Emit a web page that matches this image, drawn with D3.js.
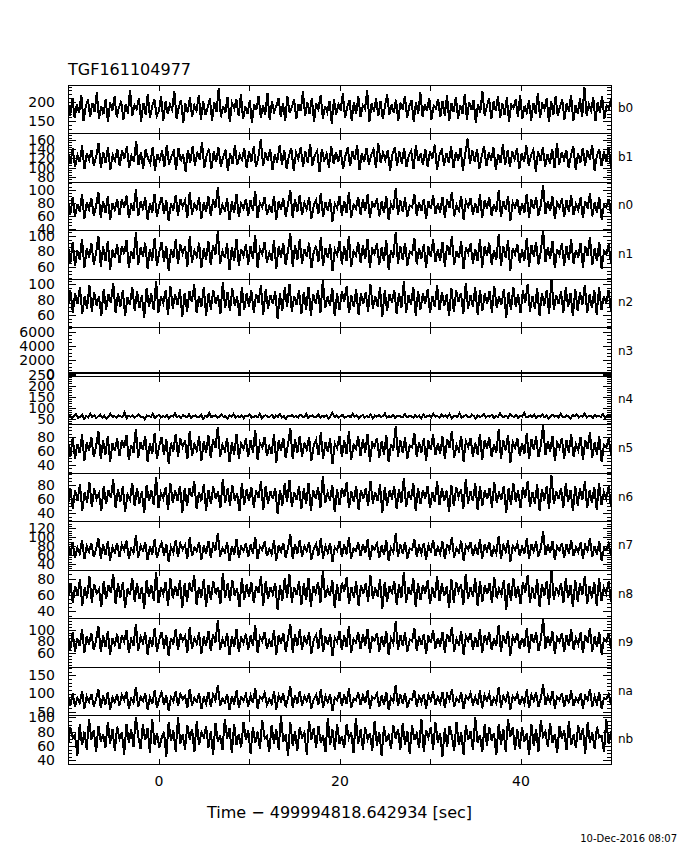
<!DOCTYPE html>
<html><head><meta charset="utf-8">
<script src="https://cdn.jsdelivr.net/npm/d3@7"></script>
<style>
body{margin:0;background:#fff}
svg{display:block}
text{font-family:'DejaVu Sans',sans-serif;fill:#000}
</style></head>
<body><svg id="c" width="680" height="850"></svg>
<script>
const titleText = "TGF161104977";
const xTitle = "Time \u2212 499994818.642934 [sec]";
const dateText = "10-Dec-2016 08:07";
const detectors = ["b0","b1","n0","n1","n2","n3","n4","n5","n6","n7","n8","n9","na","nb"];
const yLow  = [118, 69, 37, 44, 43, -360, 23, 28, 28, 25, 31, 36, 38, 34];
const yHigh = [244, 174, 112, 106.5, 107, 6570, 243, 97.8, 96.5, 134.6, 90, 118, 172, 102];
const majorTicks = [[150,200],[80,100,120,140,160],[40,60,80,100],[60,80,100],[60,80,100],[0,2000,4000,6000],[50,100,150,200,250],[40,60,80],[40,60,80],[40,60,80,100,120],[40,60,80],[60,80,100],[50,100,150],[40,60,80,100]];
const minorStep = [10,5,5,5,5,500,10,5,5,5,5,5,10,5];
const timeRange = [-10, 50];
const xTickValues = [-10,0,10,20,30,40,50];
const xLabelValues = [0,20,40];

const rates_b0 = [200,165,211,158,194,171,219,150,188,206,162,197,174,225,155,190,168,208,147,199,177,214,160,186,203,153,195,170,232,164,192,181,210,149,198,167,221,159,189,207,163,176,215,152,201,169,193,180,228,157,187,205,146,196,173,212,161,191,178,218,154,202,166,185,209,151,199,175,236,160,190,172,213,148,197,183,206,163,220,156,188,170,204,145,195,179,216,158,192,167,224,153,201,174,189,210,162,198,150,215,171,186,207,155,193,176,227,164,200,168,211,149,196,181,218,157,190,173,203,144,208,166,194,178,222,159,187,205,152,199,170,214,161,191,182,230,148,196,175,209,163,202,156,188,219,167,193,172,206,151,198,180,216,158,189,204,147,200,169,225,162,195,176,211,154,190,183,208,160,203,165,217,150,197,174,213,157,192,168,221,153,199,179,205,146,194,171,228,164,188,209,155,201,177,215,159,196,166,212,149,193,184,207,161,219,156,190,173,204,152,198,170,223,158,195,181,210,147,202,167,214,163,189,206,154,197,175,218,150,192,169,209,160,239,165,194,178,212,151,200,172,216,157,191,183,207];
const rates_b1 = [135,108,142,101,127,112,148,97,131,117,139,104,124,153,99,133,110,144,95,128,115,141,103,137,119,146,100,126,113,158,106,134,98,140,121,109,145,94,130,116,137,102,149,107,125,136,96,143,114,129,92,138,111,147,105,132,118,155,100,127,141,97,135,112,144,103,123,139,93,131,108,150,106,128,117,142,99,136,113,146,101,124,161,104,133,115,140,96,129,111,148,107,138,98,126,143,94,132,119,145,102,135,110,152,105,127,137,91,141,116,130,100,147,108,134,113,139,97,125,144,103,136,118,149,95,131,112,142,106,128,140,99,154,110,133,117,138,93,129,145,104,135,109,143,101,126,137,97,148,114,131,107,141,102,136,120,150,96,127,139,105,132,111,146,100,134,115,143,94,130,163,108,137,113,140,98,125,147,103,133,116,144,95,129,110,151,106,138,101,135,119,142,97,131,112,148,104,127,139,92,136,114,145,102,130,109,141,99,153,107,134,117,138,100,128,146,96,132,111,143,105,137,118,149,94,126,140,103,135,113,144,98];
const rates_n0 = [84,62,89,58,78,66,93,55,81,70,87,60,75,97,57,83,64,90,53,79,69,86,61,85,73,91,56,77,67,101,59,82,71,88,54,80,65,94,58,76,89,63,84,52,79,68,92,60,86,74,83,57,96,62,78,70,88,55,81,66,90,59,85,72,104,61,77,68,87,53,82,64,93,58,79,71,86,60,84,67,98,56,80,73,89,62,75,65,91,54,83,69,87,59,78,100,57,85,66,92,61,80,70,88,55,76,84,63,95,58,81,68,86,51,79,72,90,60,83,65,97,57,77,71,89,62,85,67,93,56,80,74,87,59,82,64,91,53,78,69,102,61,84,66,88,58,76,73,94,60,81,67,86,55,83,70,92,63,79,65,89,57,85,72,96,59,77,68,90,54,82,74,87,61,80,64,93,56,84,71,88,60,78,66,99,58,83,69,91,52,81,73,86,62,79,65,94,57,85,70,89,60,76,107,63,82,67,90,55,80,72,87,58,84,66,92,61,78,69,88,56,83,71,95,59,81,64,89,54,77,73,86,62];
const rates_n1 = [88,64,92,61,81,69,96,58,84,72,90,63,78,100,60,86,67,93,56,82,71,89,65,87,76,94,59,80,70,104,62,85,73,91,57,83,68,97,61,79,92,66,87,55,82,71,95,63,89,77,86,60,99,65,81,73,91,58,84,69,93,62,88,75,106,64,80,71,90,56,85,67,96,61,82,74,89,63,87,70,101,59,83,76,92,65,78,68,94,57,86,72,90,62,81,103,60,88,69,95,64,83,73,91,58,79,87,66,98,61,84,71,89,54,82,75,93,63,86,68,100,60,80,74,92,65,88,70,96,59,83,77,90,62,85,67,94,56,81,72,105,64,87,69,91,61,79,76,97,63,84,70,89,58,86,73,95,66,82,68,92,60,88,75,99,62,80,71,93,57,85,77,90,64,83,67,96,59,87,74,91,63,81,69,102,61,86,72,94,55,84,76,89,65,82,68,97,60,88,73,92,63,79,108,66,85,70,93,58,83,75,90,61,87,69,95,64,81,72,91,59,86,74,98,62,84,67,92,57,80,76,89,65];
const rates_n2 = [70,92,63,88,74,96,61,85,68,99,64,90,72,84,59,94,67,87,76,102,62,89,70,93,58,83,73,97,65,91,69,86,56,95,71,88,66,105,63,84,75,92,60,98,68,87,73,94,57,89,64,91,77,100,62,85,70,96,59,88,67,93,74,86,61,103,69,90,65,95,72,84,58,97,66,89,71,92,63,87,76,99,60,94,68,86,74,91,55,88,65,96,70,101,64,85,73,93,61,90,67,97,59,87,75,92,63,106,69,84,72,95,58,89,66,91,77,98,62,86,70,94,60,88,74,90,64,100,68,85,71,96,57,92,65,87,76,93,61,89,69,104,63,86,73,97,59,91,67,88,75,94,62,85,70,99,66,90,72,87,58,95,64,92,77,89,61,102,68,86,71,96,60,93,65,88,74,91,63,98,69,84,73,94,56,90,66,97,70,87,62,92,76,100,64,85,68,95,59,89,72,93,61,107,67,86,74,91,63,96,70,88,58,94,65,90,73,99,62,87,69,92,60,97,66,85,75,93,64];
const rates_n3 = [68,74,63,79,70,66,82,71,75,61,77,69,73,85,67,72,64,78,70,76,62,80,71,74,67,83,69,73,65,77,72,68,81,70,75,63,79,71,66,84,73,69,76,64,78,70,72,67,82,74,68,75,62,80,71,77,65,73,70,79,71,66,78,73,69,84,64,75,70,80,67,73,62,77,71,82,68,74,65,79,72,76,63,81,70,69,85,66,74,72,78,64,80,71,67,76,73,83,65,70,75,68,79,72,66,77,74,61,81,70];
const rates_n4 = [58,66,52,63,71,55,60,68,49,62,57,74,59,65,53,61,69,56,64,50,60,72,58,63,54,67,61,57,78,52,64,59,66,55,62,70,57,60,48,65,63,58,73,54,61,67,56,62,59,69,51,64,60,75,57,63,55,66,61,58,71,53,62,65,56,60,68,50,64,59,76,57,62,66,54,61,69,58,63,52,65,60,72,56,62,58,67,53,64,61,70,55,59,63,57,74,51,62,66,58,60,68,54,65,59,71,56,62,49,64,60,67,57,63,55,69,61,58,73,53,62,65,57,60,70,55,63,59,66,52,61,77,58,64,56,62,68,54,60,63,57,72,59,65,53,61,67,56,62,58,70,51,64,60,66,57,63,74,55,61,59,68,54,62,65,58,60,71,56,63,61,55,67,59,64,52,70,58,62,66,56,73,60,63,54,68,59,65,57,71,53,62,64,58,76,55,61,67,60,57,69,63,51,66,59,62,72,56,64,60,68,54,63,58,74,61,57,65,55,70,62,59,67,53,64,61,78,56,60,66,58,69,54,63,60,71,57,65,52,62,68,59,64,55,73,60,58,66,62,50,67,61,70,56,63,59,75,57,62,65,54,68,60,64,58,71,55,63,61,66];
const rates_n5 = [74,52,79,49,70,57,84,46,72,61,80,51,67,88,48,75,55,82,44,71,60,78,53,76,65,83,47,69,58,92,50,73,62,81,45,71,56,86,49,68,80,54,77,42,72,59,85,51,78,66,75,48,89,53,70,61,81,46,74,57,83,50,77,64,95,52,69,60,79,44,73,55,85,49,71,63,78,51,76,58,90,47,72,65,80,53,67,56,84,43,75,60,79,50,70,93,48,77,57,82,52,72,62,80,46,68,76,54,87,49,73,59,78,41,71,64,82,51,75,56,88,47,69,63,81,53,77,58,85,45,72,66,79,50,74,55,83,44,70,61,96,52,76,57,80,49,68,65,86,51,73,58,78,46,75,62,84,54,71,56,81,48,77,64,89,50,69,60,82,45,74,66,79,52,72,55,85,47,76,63,80,51,70,57,91,49,75,61,83,43,73,65,78,53,71,56,86,48,77,62,81,51,68,97,54,74,59,82,46,72,64,79,49,76,58,84,52,70,61,80,47,75,63,87,50,73,55,81,44,69,65,78,53];
const rates_n6 = [51,76,46,72,58,81,44,70,55,84,49,75,60,68,43,79,53,73,62,88,47,74,56,78,42,67,59,83,50,76,54,71,40,80,57,73,52,91,48,69,61,77,45,82,55,72,58,79,41,75,50,76,63,86,46,70,57,81,44,73,53,78,60,71,47,89,55,75,51,80,58,69,43,83,52,74,57,77,48,72,62,85,45,79,54,71,60,76,39,73,51,82,56,87,49,70,59,78,46,75,53,83,44,72,61,77,48,93,55,69,58,80,42,74,52,76,63,84,47,71,56,79,45,73,60,75,50,86,54,70,57,81,41,77,51,72,62,78,46,74,55,90,49,71,59,83,43,76,53,73,61,79,47,70,56,85,52,75,58,72,42,80,50,77,63,74,46,88,54,71,57,82,45,78,51,73,60,76,48,84,55,69,59,79,40,75,52,83,56,72,47,77,62,86,49,70,54,81,44,74,58,78,46,94,53,71,60,76,48,82,56,73,43,79,51,75,59,85,47,72,55,77,45,83,52,70,61,78,49];
const rates_n7 = [82,57,88,53,76,63,93,50,80,67,86,55,73,98,52,84,60,90,47,78,66,87,56,83,71,92,51,75,64,104,54,81,69,89,48,79,61,95,53,74,88,58,85,45,78,65,94,55,86,72,82,52,99,57,77,68,89,49,81,62,92,54,84,70,110,56,75,66,88,46,80,60,95,53,78,69,86,55,83,63,101,50,79,71,90,57,74,61,93,47,82,67,87,54,76,106,51,85,62,94,56,79,68,89,49,73,84,58,97,52,80,65,87,44,77,70,91,55,83,61,100,51,75,69,88,57,85,64,95,48,79,72,86,53,81,60,93,46,76,66,108,55,84,63,89,52,74,71,96,56,80,64,87,49,82,68,94,58,77,62,90,50,85,70,99,54,75,66,92,47,81,72,88,57,79,61,95,51,84,69,89,55,76,63,103,52,82,67,93,45,80,71,86,58,78,62,97,50,85,68,90,56,74,114,59,83,65,91,48,79,70,87,53,84,63,94,57,77,66,88,51,82,69,98,55,80,61,90,46,75,71,86,58];
const rates_n8 = [54,75,50,71,59,79,47,69,56,83,51,73,62,67,46,77,55,72,63,86,49,74,57,76,44,68,60,81,52,75,55,70,43,78,58,72,53,88,50,69,61,76,47,80,56,71,59,78,44,74,52,75,64,84,48,70,57,79,46,72,54,77,61,70,49,87,56,74,53,78,59,68,45,81,54,73,58,76,50,71,63,83,47,77,55,70,61,75,42,72,53,80,57,85,51,69,60,77,48,74,54,81,46,71,62,76,50,90,56,68,59,78,44,73,53,75,64,82,49,70,57,77,47,72,61,74,52,84,55,69,58,79,43,76,52,71,63,77,48,73,56,88,51,70,60,81,45,75,54,72,62,78,49,69,57,83,53,74,59,71,44,79,51,76,64,73,48,86,55,70,58,80,47,77,52,72,61,75,50,82,56,68,60,78,42,74,53,81,57,71,49,76,63,84,51,69,55,79,46,73,59,77,48,91,54,70,61,75,50,80,57,72,45,78,52,74,60,83,49,71,56,76,47,81,53,69,62,77,51];
const rates_n9 = [91,66,96,63,85,72,101,60,89,75,94,65,82,106,62,90,70,98,57,86,74,93,67,91,79,99,61,84,73,110,64,88,77,95,58,87,71,102,63,83,96,68,91,56,86,75,100,65,93,81,89,61,104,67,85,76,95,59,88,72,98,64,92,78,116,66,84,74,94,57,89,70,101,62,86,77,93,65,90,73,107,60,87,80,96,67,82,71,99,58,90,76,94,63,85,109,61,92,72,100,66,87,77,95,59,83,91,68,103,62,88,74,93,55,86,79,97,65,90,71,105,61,84,78,96,67,92,73,101,60,87,81,94,63,89,70,98,57,85,76,114,66,91,72,95,62,83,80,102,64,88,74,93,59,90,77,99,68,86,71,96,61,92,79,104,63,84,75,97,58,89,81,94,66,87,70,101,60,91,78,95,65,85,72,108,62,90,76,98,56,88,80,93,67,86,71,102,61,92,77,96,64,83,119,68,89,73,97,59,87,79,94,62,91,72,100,66,85,75,95,60,90,78,103,63,88,70,96,58,84,80,93,67];
const rates_na = [95,66,101,62,88,73,107,58,92,77,99,64,85,112,60,94,70,104,55,89,76,98,67,96,82,105,59,87,74,118,63,91,79,100,56,90,71,109,61,86,103,68,95,53,89,78,106,65,99,84,93,60,113,67,88,77,101,57,92,72,104,63,97,81,124,66,86,75,99,55,93,70,108,61,90,80,98,64,94,74,115,59,91,83,102,68,85,71,106,56,95,78,100,62,87,120,60,96,73,107,67,92,79,101,58,84,97,69,111,61,93,76,99,52,89,82,104,65,98,71,114,60,86,81,103,68,95,74,108,59,91,85,100,63,94,70,105,55,88,77,122,66,97,72,102,61,85,83,110,64,92,75,99,58,96,80,106,69,90,73,103,60,98,82,112,62,87,78,104,57,93,84,101,67,91,70,109,59,96,81,100,65,88,74,117,61,94,79,105,54,92,83,99,68,89,72,111,60,97,80,103,63,86,126,69,93,76,106,58,90,82,101,62,95,73,108,66,88,77,100,59,94,81,113,64,91,71,104,57,87,84,99,68];
const rates_nb = [58,86,71,75,46,90,61,80,55,97,69,82,51,88,66,77,57,94,63,84,53,87,70,79,48,91,65,83,59,101,74,56,90,68,85,50,97,62,78,58,71,80,45,93,67,82,52,100,63,76,55,89,69,84,51,95,61,79,72,88,57,81,47,92,66,75,54,98,70,85,50,90,62,77,58,94,68,82,49,87,64,80,56,96,71,74,52,89,63,84,55,102,66,76,46,93,60,81,53,86,72,79,48,95,69,85,57,88,64,75,51,99,61,83,55,91,63,74,57,90,71,79,50,99,63,83,55,86,69,78,53,95,60,80,46,88,66,75,56,89,70,84,54,92,62,81,49,89,68,77,57,98,52,82,72,86,55,93,65,78,45,85,58,88,74,53,94,61,79,48,89,69,81,54,100,64,75,51,90,60,87,67,78,47,91,62,84,52,97,73,86,55,83,56,87,66,78,47,90,60,84,52,96,73,80,58,92,64,77,50,88,70,82,54,95,61,76,57,89,68,85,49,93,65,79,56,87,72,74,51,98,63,81];
const series = [rates_b0,rates_b1,rates_n0,rates_n1,rates_n2,rates_n3,rates_n4,rates_n5,rates_n6,rates_n7,rates_n8,rates_n9,rates_na,rates_nb];

const svg = d3.select("#c").attr("shape-rendering","crispEdges");
const L = 68, R = 611, T = 85, B = 764.5;
const x = d3.scaleLinear().domain(timeRange).range([L, R]);
const band = d3.scaleBand().domain(detectors).range([T, B]).paddingInner(0);
const defs = svg.append("defs");
const fmt = d3.format("d");

function clean(g){ g.select(".domain").remove(); g.selectAll(".tick line").attr("stroke","#000"); }

detectors.forEach((d, i) => {
  const top = band(d), h = band.bandwidth();
  const y = d3.scaleLinear().domain([yLow[i], yHigh[i]]).range([top + h, top]);
  defs.append("clipPath").attr("id", "cp" + i).append("rect")
    .attr("x", L).attr("y", top).attr("width", R - L).attr("height", h);
  const vals = series[i], n = vals.length, dt = (timeRange[1] - timeRange[0]) / (n - 1);
  const line = d3.line().x((v, k) => x(timeRange[0] + k * dt)).y(v => y(v)).curve(d3.curveLinear);
  svg.append("path").attr("d", line(vals)).attr("fill", "none").attr("stroke", "#000")
    .attr("stroke-width", 2).attr("clip-path", `url(#cp${i})`);

  const st = minorStep[i];
  const minors = d3.range(Math.ceil(yLow[i] / st) * st, yHigh[i], st).filter(v => !majorTicks[i].includes(v));
  svg.append("g").attr("transform", `translate(${L},0)`)
    .call(d3.axisLeft(y).tickValues(minors).tickSize(-4).tickFormat("")).call(clean);
  svg.append("g").attr("transform", `translate(${R},0)`)
    .call(d3.axisRight(y).tickValues(minors).tickSize(-4).tickFormat("")).call(clean);
  const gl = svg.append("g").attr("transform", `translate(${L},0)`)
    .call(d3.axisLeft(y).tickValues(majorTicks[i]).tickSize(-8).tickPadding(13).tickFormat(fmt)).call(clean);
  gl.selectAll("text").attr("font-size", 14).attr("font-family", "'DejaVu Sans',sans-serif").attr("fill", "#000");
  svg.append("g").attr("transform", `translate(${R},0)`)
    .call(d3.axisRight(y).tickValues(majorTicks[i]).tickSize(-8).tickFormat("")).call(clean);

  svg.append("g").attr("transform", `translate(0,${top})`)
    .call(d3.axisBottom(x).tickValues(xTickValues).tickSize(6).tickFormat("")).call(clean);
  svg.append("g").attr("transform", `translate(0,${top + h})`)
    .call(d3.axisTop(x).tickValues(xTickValues).tickSize(6).tickFormat("")).call(clean);

  svg.append("rect").attr("x", L).attr("y", top).attr("width", R - L).attr("height", h)
    .attr("fill", "none").attr("stroke", "#000").attr("stroke-width", 1);
  svg.append("text").attr("x", 618).attr("y", top + h / 2 - 1).attr("dominant-baseline", "central")
    .attr("font-size", 12).text(d);
});

const gx = svg.append("g").attr("transform", `translate(0,${B})`)
  .call(d3.axisBottom(x).tickValues(xLabelValues).tickSize(0).tickPadding(11.5)).call(clean);
gx.selectAll("text").attr("font-size", 14).attr("font-family", "'DejaVu Sans',sans-serif").attr("fill", "#000");

svg.append("text").attr("x", L).attr("y", 75).attr("font-size", 16).text(titleText);
svg.append("text").attr("x", (L + R) / 2).attr("y", 818).attr("text-anchor", "middle").attr("font-size", 16).text(xTitle);
svg.append("text").attr("x", 677).attr("y", 842).attr("text-anchor", "end").attr("font-size", 10).text(dateText);
</script></body></html>
